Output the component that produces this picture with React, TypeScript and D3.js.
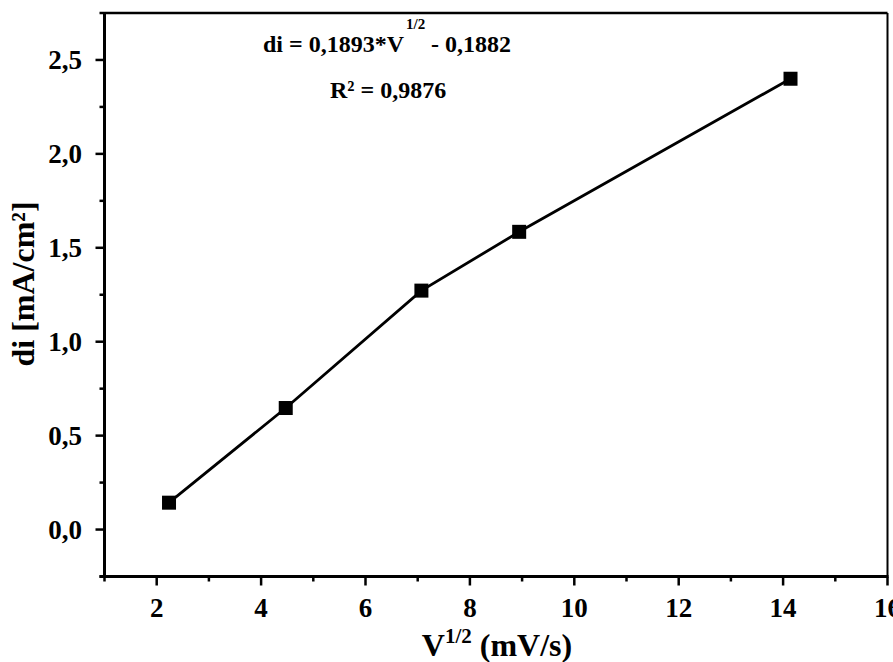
import React from "react";
import * as d3 from "d3";

const xValues = [2.236, 4.472, 7.071, 8.944, 14.142];
const yValues = [0.143, 0.647, 1.272, 1.585, 2.4];
const xTicks = [2, 4, 6, 8, 10, 12, 14, 16];
const yTicks = [0, 0.5, 1.0, 1.5, 2.0, 2.5];
const xMinor = [1, 3, 5, 7, 9, 11, 13, 15];
const yMinor = [-0.25, 0.25, 0.75, 1.25, 1.75, 2.25];
const eqText = "di = 0,1893*V";
const eqTail = "- 0,1882";
const r2Text = "R² = 0,9876";

const W = 893, H = 662;
const L = 104.5, R = 887.5, T = 13, B = 576.5;

export default function App() {
  const x = d3.scaleLinear().domain([1, 16]).range([L, R]);
  const y = d3.scaleLinear().domain([-0.25, 2.75]).range([B, T]);
  const pts = xValues.map((v, i) => [v, yValues[i]] as [number, number]);
  const line = d3.line<[number, number]>().x(d => x(d[0])).y(d => y(d[1]));
  const font = "Liberation Serif, Times New Roman, serif";
  const fmt = (v: number) => v.toFixed(1).replace(".", ",");
  return (
    <svg width={W} height={H} style={{ position: "absolute", left: 0, top: 0, background: "#fff" }} fontFamily={font} fontWeight="bold">
      <rect x={0} y={0} width={W} height={H} fill="#fff" />
      <path d={line(pts) ?? ""} fill="none" stroke="#000" strokeWidth={2.8} />
      {pts.map((p, i) => (
        <rect key={i} x={x(p[0]) - 7} y={y(p[1]) - 7} width={14} height={14} fill="#000" />
      ))}
      {/* frame */}
      <line x1={L} y1={T} x2={R} y2={T} stroke="#000" strokeWidth={2.5} />
      <line x1={R} y1={T} x2={R} y2={B} stroke="#000" strokeWidth={2} />
      <line x1={L} y1={T - 1} x2={L} y2={B + 1} stroke="#000" strokeWidth={3} />
      <line x1={L - 5} y1={B} x2={R + 1} y2={B} stroke="#000" strokeWidth={3} />
      <line x1={L - 5} y1={T} x2={L} y2={T} stroke="#000" strokeWidth={2.5} />
      {/* x ticks */}
      {xTicks.map(t => (
        <g key={"xt" + t}>
          <line x1={x(t)} y1={B} x2={x(t)} y2={B + 9} stroke="#000" strokeWidth={2.5} />
          <text x={x(t)} y={617} textAnchor="middle" fontSize={27}>{t}</text>
        </g>
      ))}
      {xMinor.map(t => (
        <line key={"xm" + t} x1={x(t)} y1={B} x2={x(t)} y2={B + 5} stroke="#000" strokeWidth={2.5} />
      ))}
      {/* y ticks */}
      {yTicks.map(t => (
        <g key={"yt" + t}>
          <line x1={L} y1={y(t)} x2={L - 9} y2={y(t)} stroke="#000" strokeWidth={2.5} />
          <text x={82} y={y(t) + 9} textAnchor="end" fontSize={27}>{fmt(t)}</text>
        </g>
      ))}
      {yMinor.map(t => (
        <line key={"ym" + t} x1={L} y1={y(t)} x2={L - 5} y2={y(t)} stroke="#000" strokeWidth={2.5} />
      ))}
      {/* axis titles */}
      <text transform="translate(34,284) rotate(-90)" textAnchor="middle" fontSize={32}>di [mA/cm²]</text>
      <text x={497} y={656} textAnchor="middle" fontSize={32}>
        V<tspan dy={-13} fontSize={21}>1/2</tspan><tspan dy={13}> (mV/s)</tspan>
      </text>
      {/* equation */}
      <text x={263} y={52} fontSize={24}>{eqText}</text>
      <text x={406} y={29} fontSize={15}>1/2</text>
      <text x={431} y={52} fontSize={24}>{eqTail}</text>
      <text x={330} y={98} fontSize={24}>{r2Text}</text>
    </svg>
  );
}
